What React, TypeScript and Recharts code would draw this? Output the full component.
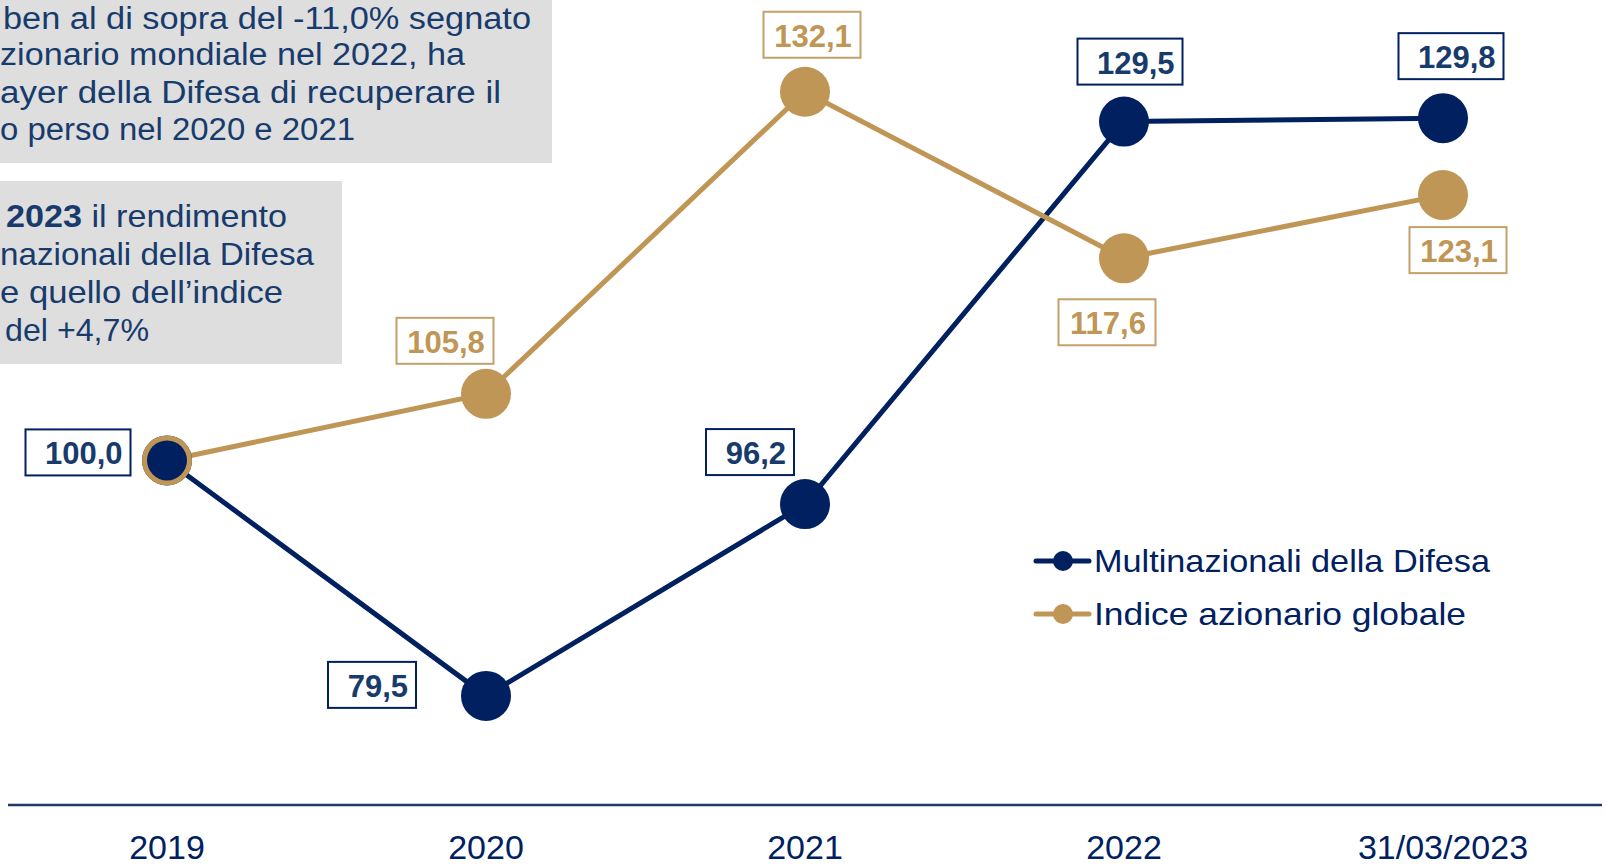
import React from 'react';
import { LineChart, Line, XAxis, YAxis, LabelList } from 'recharts';

// ---------- data ----------
const CATEGORIES = ['2019', '2020', '2021', '2022', '31/03/2023'];
const DIFESA = [100.0, 79.5, 96.2, 129.5, 129.8];
const GLOBALE = [100.0, 105.8, 132.1, 117.6, 123.1];
const SERIES_NAMES = ['Multinazionali della Difesa', 'Indice azionario globale'];
const Y_DOMAIN: [number, number] = [70, 140];

const NOTE_TOP = [
  'ben al di sopra del -11,0% segnato',
  'zionario mondiale nel 2022, ha',
  'ayer della Difesa di recuperare il',
  'o perso nel 2020 e 2021',
];
const NOTE_BOTTOM_BOLD = '2023';
const NOTE_BOTTOM = [' il rendimento', 'nazionali della Difesa', 'e quello dell\u2019indice', 'del +4,7%'];

// ---------- style ----------
const W = 1608;
const H = 867;
const NAVY = '#002060';
const GOLD = '#BF9655';
const GOLD_BORDER = '#C4A06A';
const TEXT_BLUE = '#173B6C';
const BOX_GRAY = '#DEDEDE';
const FONT = '"Liberation Sans", Arial, sans-serif';

// label box placement relative to each point (box centre dx, dy)
const NAVY_LABEL_OFFSETS: number[][] = [[-89, -8], [-114, -11], [-55, -52], [6, -60], [8, -62]];
const NAVY_LABEL_WIDTHS = [105, 88, 88, 105, 105];
const GOLD_LABEL_OFFSETS: (number[] | null)[] = [null, [-41, -53], [7, -57], [-17, 64], [15, 55]];
const GOLD_LABEL_WIDTH = 97;
const LABEL_H = 46;

const fmt = (v: number) => v.toFixed(1).replace('.', ',');

const data = CATEGORIES.map((c, i) => ({ cat: c, difesa: DIFESA[i], globale: GLOBALE[i] }));

function NavyLabel(p: any) {
  const idx = p.index;
  const off = NAVY_LABEL_OFFSETS[idx];
  if (!off) return null;
  const px = p.x ?? p.viewBox?.x;
  const py = p.y ?? p.viewBox?.y;
  const w = NAVY_LABEL_WIDTHS[idx];
  const cx = px + off[0];
  const cy = py + off[1];
  return (
    <g>
      <rect x={cx - w / 2} y={cy - LABEL_H / 2} width={w} height={LABEL_H} fill="#fff" stroke={NAVY} strokeWidth={2} />
      <text x={cx + w / 2 - 8} y={cy + 12} textAnchor="end" fontFamily={FONT} fontWeight="bold" fontSize={31} fill={TEXT_BLUE}>
        {fmt(Number(p.value))}
      </text>
    </g>
  );
}

function GoldLabel(p: any) {
  const idx = p.index;
  const off = GOLD_LABEL_OFFSETS[idx];
  if (!off) return null;
  const px = p.x ?? p.viewBox?.x;
  const py = p.y ?? p.viewBox?.y;
  const w = GOLD_LABEL_WIDTH;
  const cx = px + off[0];
  const cy = py + off[1];
  return (
    <g>
      <rect x={cx - w / 2} y={cy - LABEL_H / 2} width={w} height={LABEL_H} fill="#fff" stroke={GOLD_BORDER} strokeWidth={2} />
      <text x={cx + 1} y={cy + 12} textAnchor="middle" fontFamily={FONT} fontWeight="bold" fontSize={31} fill={GOLD}>
        {fmt(Number(p.value))}
      </text>
    </g>
  );
}

function NavyDot(p: any) {
  return <circle key={`nd-${p.index}`} cx={p.cx} cy={p.cy} r={25} fill={NAVY} />;
}

function GoldDot(p: any) {
  return (
    <g key={`gd-${p.index}`}>
      <circle cx={p.cx} cy={p.cy} r={25} fill={GOLD} />
      {p.index === 0 ? <circle cx={p.cx} cy={p.cy} r={20} fill={NAVY} /> : null}
    </g>
  );
}

function Tick(p: any) {
  return (
    <text x={p.x} y={p.y + 54} textAnchor="middle" fontFamily={FONT} fontSize={34} fill={NAVY}>
      {p.payload.value}
    </text>
  );
}

const NOTE_TOP_LAYOUT = [
  { x: 3, y: 28.5, len: 528 },
  { x: 0, y: 65, len: 465 },
  { x: 0, y: 102.5, len: 501 },
  { x: 0, y: 140, len: 355 },
];
const NOTE_BOTTOM_LAYOUT = [
  { x: 6, y: 227, len: 281 },
  { x: 0, y: 265, len: 314 },
  { x: 0, y: 303, len: 283 },
  { x: 5, y: 341, len: 144 },
];
const LEGEND_LAYOUT = [
  { y: 561, len: 396 },
  { y: 614, len: 372 },
];

function Overlay() {
  const colors = [NAVY, GOLD];
  return (
    <svg width={W} height={H} style={{ position: 'absolute', left: 0, top: 0, pointerEvents: 'none' }}>
      <rect x={0} y={0} width={552} height={163} fill={BOX_GRAY} />
      {NOTE_TOP.map((t, i) => (
        <text key={i} x={NOTE_TOP_LAYOUT[i].x} y={NOTE_TOP_LAYOUT[i].y} fontFamily={FONT} fontSize={31} fill={TEXT_BLUE}
          textLength={NOTE_TOP_LAYOUT[i].len} lengthAdjust="spacingAndGlyphs">{t}</text>
      ))}
      <rect x={0} y={181} width={342} height={183} fill={BOX_GRAY} />
      {NOTE_BOTTOM.map((t, i) => (
        <text key={i} x={NOTE_BOTTOM_LAYOUT[i].x} y={NOTE_BOTTOM_LAYOUT[i].y} fontFamily={FONT} fontSize={32} fill={TEXT_BLUE}
          textLength={NOTE_BOTTOM_LAYOUT[i].len} lengthAdjust="spacingAndGlyphs">
          {i === 0 ? <tspan fontWeight="bold">{NOTE_BOTTOM_BOLD}</tspan> : null}
          {t}
        </text>
      ))}
      {SERIES_NAMES.map((n, i) => (
        <g key={n}>
          <line x1={1036} x2={1089} y1={LEGEND_LAYOUT[i].y} y2={LEGEND_LAYOUT[i].y} stroke={colors[i]} strokeWidth={5} strokeLinecap="round" />
          <circle cx={1063} cy={LEGEND_LAYOUT[i].y} r={10} fill={colors[i]} />
          <text x={1094} y={LEGEND_LAYOUT[i].y + 11} fontFamily={FONT} fontSize={32} fill={NAVY}
            textLength={LEGEND_LAYOUT[i].len} lengthAdjust="spacingAndGlyphs">{n}</text>
        </g>
      ))}
    </svg>
  );
}

export default function App() {
  return (
    <div style={{ position: 'fixed', left: 0, top: 0, width: W, height: H, background: '#fff' }}>
      <LineChart width={W} height={H} data={data} margin={{ top: 1, right: 6, bottom: 0, left: 8 }}>
        <XAxis
          dataKey="cat"
          height={62}
          padding={{ left: 159, right: 159 }}
          axisLine={{ stroke: '#1F3864', strokeWidth: 2.5 }}
          tickLine={false}
          tickSize={0}
          tickMargin={0}
          tick={<Tick />}
          interval={0}
        />
        <YAxis hide width={0} domain={Y_DOMAIN} type="number" />
        <Line
          dataKey="difesa"
          name={SERIES_NAMES[0]}
          stroke={NAVY}
          strokeWidth={5}
          dot={NavyDot}
          activeDot={false}
          isAnimationActive={false}
        >
          <LabelList dataKey="difesa" content={NavyLabel} />
        </Line>
        <Line
          dataKey="globale"
          name={SERIES_NAMES[1]}
          stroke={GOLD}
          strokeWidth={5}
          dot={GoldDot}
          activeDot={false}
          isAnimationActive={false}
        >
          <LabelList dataKey="globale" content={GoldLabel} />
        </Line>
      </LineChart>
      <Overlay />
    </div>
  );
}
